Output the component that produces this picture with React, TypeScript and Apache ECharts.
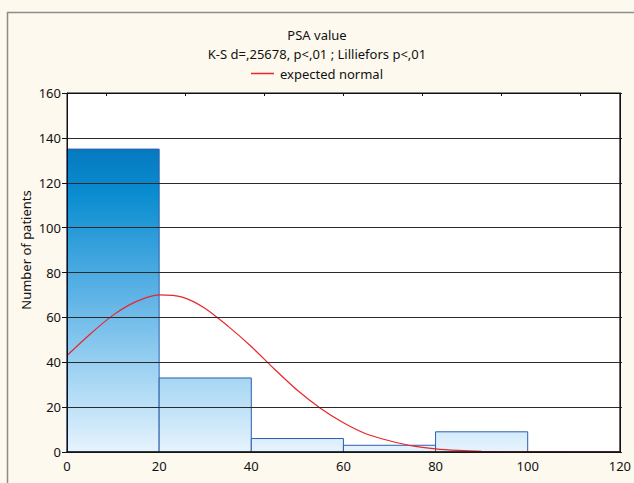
import React, { useEffect, useRef } from "react";
import * as echarts from "echarts";

// Histogram bins: [from, to, count]
const binStarts = [0, 20, 40, 60, 80];
const binEnds = [20, 40, 60, 80, 100];
const binCounts = [135, 33, 6, 3, 9];

// Expected normal curve
const curveX = [0, 5, 10, 15, 20, 25, 30, 35, 40, 45, 50, 55, 60, 65, 70, 75, 80, 85, 90, 95, 100, 110, 120];
const curveY = [43, 52.5, 61, 67, 70, 69, 64, 56, 47, 37, 27.5, 19.5, 13, 8, 5, 2.7, 1.4, 0.7, 0.3, 0.1, 0.05, 0, 0];

const xTicks = [0, 20, 40, 60, 80, 100, 120];
const yTicks = [0, 20, 40, 60, 80, 100, 120, 140, 160];
const topTickSlots = ["a", "b", "c", "d", "e", "f", "g"];

const FONT = '"Noto Sans", sans-serif';

export default function App() {
  const ref = useRef<HTMLDivElement>(null);
  useEffect(() => {
    document.body.style.margin = "0";
    const chart = echarts.init(ref.current!, null, { renderer: "svg" });
    const maxBar = Math.max(...binCounts);
    const stops = [
      { offset: 0, color: "#0679c0" },
      { offset: 0.15, color: "#0a8dd0" },
      { offset: 0.5, color: "#62b5e7" },
      { offset: 0.75, color: "#a4d5f3" },
      { offset: 1, color: "#e6f3fd" },
    ];
    const option: any = {
      animation: false,
      backgroundColor: "#fdf9ee",
      textStyle: { fontFamily: FONT },
      title: {
        text: "PSA value",
        subtext: "K-S d=,25678, p<,01 ; Lilliefors p<,01",
        left: "center",
        top: 28,
        padding: 0,
        itemGap: 6,
        textStyle: { fontSize: 13, fontWeight: "normal", color: "#111", fontFamily: FONT },
        subtextStyle: { fontSize: 13, color: "#111", fontFamily: FONT },
      },
      legend: {
        top: 67,
        left: "center",
        padding: 0,
        data: [{ name: "expected normal", icon: "rect" }],
        itemWidth: 23,
        itemHeight: 1.5,
        itemGap: 6,
        textStyle: { fontSize: 13, color: "#111", fontFamily: FONT, padding: [0, 0, 0, 1] },
      },
      grid: {
        left: 67,
        right: 11,
        top: 93,
        bottom: 31,
        show: true,
        backgroundColor: "#ffffff",
        borderColor: "#111",
        borderWidth: 1,
      },
      xAxis: [
        {
          type: "value",
          min: 0,
          max: 120,
          interval: 20,
          position: "bottom",
          axisLine: { show: true, onZero: false, lineStyle: { color: "#111", width: 1.5 } },
          axisTick: { show: false },
          axisLabel: {
            fontSize: 13,
            color: "#111",
            margin: 7,
            fontFamily: FONT,
            customValues: xTicks,
          },
          splitLine: { show: false },
          z: 5,
        },
        {
          type: "category",
          position: "top",
          data: topTickSlots,
          boundaryGap: true,
          axisLine: { show: true, onZero: false, lineStyle: { color: "#111", width: 1 } },
          axisTick: { show: true, inside: true, length: 3, alignWithLabel: true, interval: 0, lineStyle: { color: "#111" } },
          axisLabel: { show: false },
          splitLine: { show: false },
          z: 5,
        },
      ],
      yAxis: [
        {
          type: "value",
          min: 0,
          max: 160,
          interval: 20,
          position: "left",
          axisLine: { show: true, onZero: false, lineStyle: { color: "#111", width: 1 } },
          axisTick: { show: true, length: 5, lineStyle: { color: "#111" } },
          axisLabel: { fontSize: 13, color: "#111", margin: 6, fontFamily: FONT, customValues: yTicks },
          splitLine: { show: true, lineStyle: { color: "#2a2a2a", width: 1 } },
          z: 5,
        },
        {
          type: "value",
          min: 0,
          max: 160,
          interval: 20,
          position: "right",
          axisLine: { show: true, onZero: false, lineStyle: { color: "#111", width: 1 } },
          axisTick: { show: true, length: 2, lineStyle: { color: "#111" } },
          axisLabel: { show: false },
          splitLine: { show: false },
          z: 5,
        },
      ],
      series: [
        {
          type: "custom",
          name: "bins",
          xAxisIndex: 0,
          yAxisIndex: 0,
          encode: { x: [0, 1], y: [2] },
          data: binStarts.map((s, i) => [s, binEnds[i], binCounts[i]]),
          renderItem: (params: any, api: any) => {
            const x0 = api.value(0);
            const x1 = api.value(1);
            const v = api.value(2);
            const p0 = api.coord([x0, v]);
            const p1 = api.coord([x1, 0]);
            const gTop = api.coord([0, maxBar])[1];
            const gBot = api.coord([0, 0])[1];
            return {
              type: "rect",
              shape: { x: p0[0], y: p0[1], width: p1[0] - p0[0], height: p1[1] - p0[1] },
              style: {
                fill: new echarts.graphic.LinearGradient(0, gTop, 0, gBot, stops, true),
                stroke: "#2b5fad",
                lineWidth: 1,
              },
            };
          },
          z: 2,
        },
        {
          type: "line",
          name: "expected normal",
          xAxisIndex: 0,
          yAxisIndex: 0,
          data: curveX.map((x, i) => [x, curveY[i]]),
          smooth: 0.25,
          showSymbol: false,
          symbol: "none",
          color: "#e8262b",
          lineStyle: { color: "#e8262b", width: 1.2 },
          z: 3,
        },
        {
          type: "line",
          name: "frame",
          xAxisIndex: 1,
          yAxisIndex: 1,
          data: [],
          silent: true,
        },
      ],
      graphic: [
        {
          type: "line",
          shape: { x1: 7.5, y1: 12, x2: 7.5, y2: 483 },
          style: { stroke: "#8c8c8c", lineWidth: 1.5 },
        },
        {
          type: "line",
          shape: { x1: 7, y1: 12.5, x2: 634, y2: 12.5 },
          style: { stroke: "#8c8c8c", lineWidth: 1.5 },
        },
        {
          type: "text",
          x: 26,
          y: 250,
          rotation: Math.PI / 2,
          style: {
            text: "Number of patients",
            fontSize: 13,
            fontFamily: FONT,
            fill: "#111",
            align: "center",
            verticalAlign: "middle",
          },
        },
      ],
    };
    chart.setOption(option);
    return () => chart.dispose();
  }, []);
  return <div ref={ref} style={{ width: 634, height: 483, position: "absolute", left: 0, top: 0 }} />;
}
